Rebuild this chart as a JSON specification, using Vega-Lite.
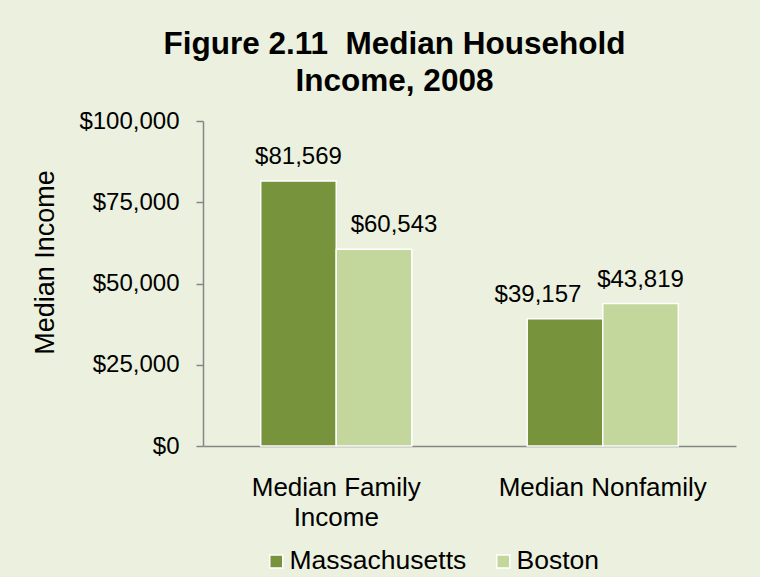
{
  "$schema": "https://vega.github.io/schema/vega-lite/v6.json",
  "width": 533,
  "height": 325,
  "autosize": "none",
  "padding": {"left": 203, "top": 121, "right": 24, "bottom": 131},
  "background": "#EBF1DE",
  "config": {
    "view": {"stroke": null},
    "font": "Liberation Sans",
    "axis": {"grid": false}
  },
  "title": {
    "text": ["Figure 2.11\u00a0 Median Household", "Income, 2008"],
    "fontSize": 31.5,
    "fontWeight": "bold",
    "font": "Liberation Sans",
    "color": "black",
    "anchor": "middle",
    "frame": "group",
    "dx": -75,
    "dy": 46,
    "lineHeight": 36.5,
    "offset": 26,
    "baseline": "bottom"
  },
  "data": {
    "values": [
      {"Category": "Median Family Income", "Series": "Massachusetts", "Income": 81569},
      {"Category": "Median Family Income", "Series": "Boston", "Income": 60543},
      {"Category": "Median Nonfamily", "Series": "Massachusetts", "Income": 39157},
      {"Category": "Median Nonfamily", "Series": "Boston", "Income": 43819}
    ]
  },
  "encoding": {
    "x": {
      "field": "Category",
      "type": "nominal",
      "sort": ["Median Family Income", "Median Nonfamily"],
      "scale": {"paddingInner": 0.433, "paddingOuter": 0.2165},
      "axis": {
        "title": null,
        "labelAngle": 0,
        "labelFontSize": 26,
        "labelColor": "black",
        "ticks": false,
        "tickSize": 0,
        "labelPadding": 49,
        "labelBaseline": "alphabetic",
        "labelLineHeight": 30,
        "labelLimit": 400,
        "labelExpr": "datum.label == 'Median Family Income' ? ['Median Family', 'Income'] : datum.label",
        "domainColor": "#868686",
        "domainWidth": 1.5
      }
    },
    "y": {
      "field": "Income",
      "type": "quantitative",
      "scale": {"domain": [0, 100000], "nice": false},
      "axis": {
        "title": "Median Income",
        "titleFontSize": 27,
        "titleFontWeight": "normal",
        "titleColor": "black",
        "titleAngle": -90,
        "titleX": -150,
        "titleY": 141,
        "titleAlign": "center",
        "titleBaseline": "alphabetic",
        "values": [0, 25000, 50000, 75000, 100000],
        "format": "$,.0f",
        "labelFontSize": 24,
        "labelColor": "black",
        "labelPadding": 17,
        "tickSize": 7,
        "tickColor": "#868686",
        "tickWidth": 1.5,
        "domainColor": "#868686",
        "domainWidth": 1.5
      }
    },
    "xOffset": {
      "field": "Series",
      "type": "nominal",
      "sort": ["Massachusetts", "Boston"],
      "scale": {"paddingInner": 0, "paddingOuter": 0}
    }
  },
  "layer": [
    {
      "mark": {"type": "bar", "stroke": "white", "strokeWidth": 1.5},
      "encoding": {
        "color": {
          "field": "Series",
          "type": "nominal",
          "scale": {"domain": ["Massachusetts", "Boston"], "range": ["#77933C", "#C3D69B"]},
          "legend": {
            "orient": "none",
            "legendX": 60,
            "legendY": 427,
            "direction": "horizontal",
            "title": null,
            "symbolType": "square",
            "symbolSize": 169,
            "symbolStrokeColor": "white",
            "symbolStrokeWidth": 1.5,
            "symbolOpacity": 1,
            "labelFontSize": 26.5,
            "labelColor": "black",
            "labelOffset": 0,
            "columnPadding": 23,
            "padding": 0,
            "labelLimit": 400
          }
        }
      }
    },
    {
      "mark": {
        "type": "text",
        "baseline": "alphabetic",
        "dy": -17,
        "fontSize": 24,
        "color": "black",
        "dx": {"expr": "datum.Series == 'Boston' && datum.Category == 'Median Family Income' ? 20 : (datum.Series == 'Massachusetts' && datum.Category == 'Median Nonfamily' ? -27 : 0)"}
      },
      "encoding": {
        "text": {"field": "Income", "type": "quantitative", "format": "$,.0f"}
      }
    }
  ]
}
